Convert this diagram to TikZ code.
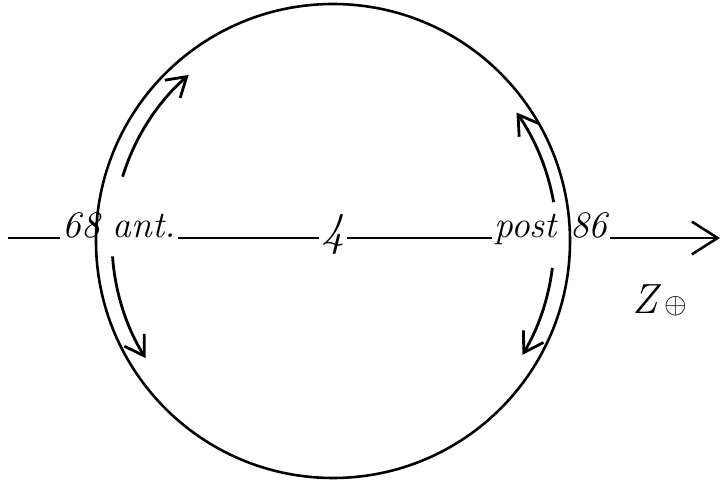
\documentclass[tikz,border=0pt]{standalone}
\usepackage{amsmath, amssymb}
\usepackage{tikz}
\usetikzlibrary{arrows.meta, positioning}

\begin{document}
\begin{tikzpicture}[
        x=0.03cm, y=0.03cm,
        lbl/.style={font=\fontsize{32}{34}\selectfont\itshape, inner sep=2pt, anchor=base},
        ring/.style={line width=2.2pt},
        axis/.style={line width=2.2pt},
        axarr/.style={line width=2.2pt, -{Straight Barb[length=22pt, width=28pt, line width=2.2pt]}},
        turn/.style={line width=2.4pt, -{Straight Barb[length=16pt, width=20pt, line width=2.4pt]}}
    ]
    \useasboundingbox (0,0) rectangle (724,484);
    % Circle
    \coordinate (c) at (333,243);
    \draw[ring] (c) circle [radius=237];
    
    % Axis labels
    \coordinate (w) at (8,246);
    \node[lbl] (ant)  at (119,246) {68 ant.};
    \node[lbl, font=\fontsize{40}{42}\selectfont\itshape] (ctr) at (333,238) {4};
    \node[lbl] (post) at (551,246) {post 86};
    \coordinate (e) at (720,246);
    \node[font=\fontsize{36}{38}\selectfont\itshape] (z) at (660,184) {Z\,$\oplus$};
    
    % Connections
    \draw[axis] (w)--(ant.base west);
    \draw[axis] (ant.base east)--(ant.base east -| ctr.west);
    \draw[axis] (post.base west -| ctr.east)--(post.base west);
    \draw[axarr] (post.base east)--(e);
    
    % Turning arrows
    \draw[turn] ([shift={(163:220)}]c) arc [start angle=163, end angle=131, radius=220];
    \draw[turn] ([shift={(184:221)}]c) arc [start angle=184, end angle=212, radius=221];
    \draw[turn] ([shift={(10:224)}]c) arc [start angle=10, end angle=35, radius=224];
    \draw[turn] ([shift={(-7:221)}]c) arc [start angle=-7, end angle=-31, radius=221];
\end{tikzpicture}
\end{document}
